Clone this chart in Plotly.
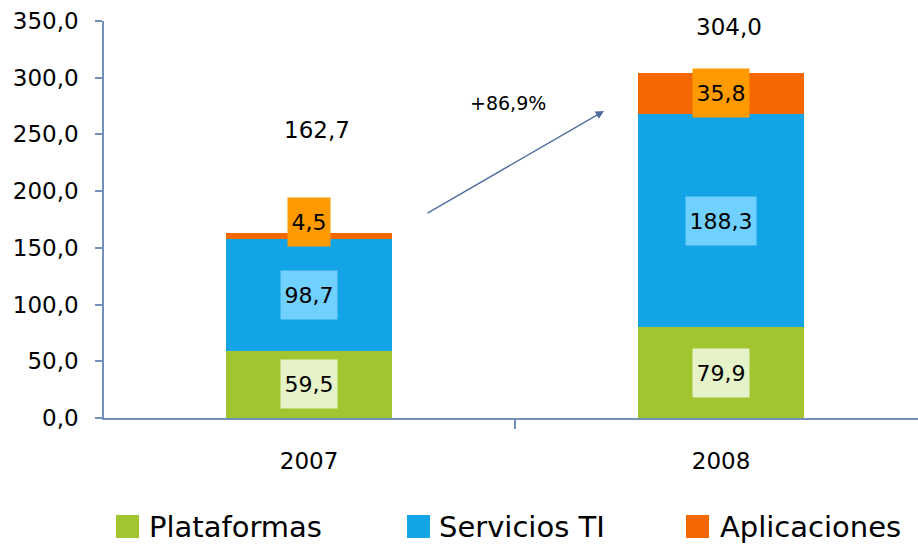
import plotly.graph_objects as go

years = ["2007", "2008"]
series_names = ["Plataformas", "Servicios TI", "Aplicaciones"]
plataformas = [59.5, 79.9]
servicios = [98.7, 188.3]
aplicaciones = [4.5, 35.8]
totals = [162.7, 304.0]
growth_label = "+86,9%"
y_tickvals = [0, 50, 100, 150, 200, 250, 300, 350]
y_ticktext = ["0,0", "50,0", "100,0", "150,0", "200,0", "250,0", "300,0", "350,0"]

bar_colors = ["#A0C52E", "#13A3E7", "#F56700"]
label_bg = ["#E6F2C8", "#70D0FF", "#FF9A00"]
FONT = "DejaVu Sans"

def fmt(v):
    return f"{v:.1f}".replace(".", ",")

fig = go.Figure()
all_series = [plataformas, servicios, aplicaciones]
for name, vals, col in zip(series_names, all_series, bar_colors):
    fig.add_trace(go.Bar(x=years, y=vals, name=name, marker=dict(color=col, line=dict(width=0)),
                         width=0.403, showlegend=False, hoverinfo="skip"))

annotations = []
# segment value labels
for si, vals in enumerate(all_series):
    for xi, v in enumerate(vals):
        base = sum(all_series[k][xi] for k in range(si))
        yc = base + v / 2
        if v < 10:
            yc = base + v + 10
        txt = fmt(v)
        ndig = len(txt) - 1
        w = 14 * ndig + 14
        annotations.append(dict(x=xi, y=yc, xref="x", yref="y", text=txt, showarrow=False,
                                font=dict(family=FONT, size=22, color="#000000"),
                                bgcolor=label_bg[si], width=w, height=48, borderpad=0,
                                xanchor="center", yanchor="middle"))

# totals
total_pos = [(0.02, 254), (1.02, 344.8)]
for (tx, ty), t in zip(total_pos, totals):
    annotations.append(dict(x=tx, y=ty, xref="x", yref="y", text=fmt(t), showarrow=False,
                            font=dict(family=FONT, size=23, color="#000000"),
                            xanchor="center", yanchor="middle"))

# growth arrow
annotations.append(dict(x=0.716, y=270.7, ax=0.284, ay=179.9, xref="x", yref="y", axref="x", ayref="y",
                        text="", showarrow=True, arrowhead=2, arrowsize=1.2, arrowwidth=1.4,
                        arrowcolor="#4F6E9E"))
annotations.append(dict(x=0.484, y=277.5, xref="x", yref="y", text=growth_label, showarrow=False,
                        font=dict(family=FONT, size=19, color="#000000"),
                        xanchor="center", yanchor="middle"))

# manual legend
shapes = []
sq_left = [116, 407, 686]
txt_left = [147, 437, 718]
def px_x(p):
    return (p - 104) / 814
def px_y(p):
    return (418 - p) / 397
for name, col, sl, tl in zip(series_names, bar_colors, sq_left, txt_left):
    shapes.append(dict(type="rect", xref="paper", yref="paper", x0=px_x(sl), x1=px_x(sl + 23),
                       y0=px_y(538), y1=px_y(515), fillcolor=col, line=dict(width=0)))
    annotations.append(dict(x=px_x(tl), y=px_y(527), xref="paper", yref="paper", text=name,
                            showarrow=False, xanchor="left", yanchor="middle",
                            font=dict(family=FONT, size=29, color="#000000")))

axis_col = "#7290BA"
fig.update_layout(
    width=918, height=548,
    margin=dict(l=104, r=0, t=21, b=130, pad=0),
    paper_bgcolor="white", plot_bgcolor="white",
    barmode="stack",
    showlegend=False,
    font=dict(family=FONT, size=23, color="#000000"),
    annotations=annotations,
    shapes=shapes,
    xaxis=dict(type="category", categoryorder="array", categoryarray=years,
               range=[-0.4976, 1.478], showline=True, linecolor=axis_col, linewidth=1.5,
               ticks="outside", tickson="boundaries", ticklen=9, tickcolor=axis_col, tickwidth=1.5,
               showgrid=False, zeroline=False, ticklabelstandoff=22,
               tickfont=dict(family=FONT, size=23, color="#000000")),
    yaxis=dict(range=[0, 350], tickvals=y_tickvals, ticktext=y_ticktext,
               showline=True, linecolor=axis_col, linewidth=1.5,
               ticks="outside", ticklen=7, tickcolor=axis_col, tickwidth=1.5,
               showgrid=False, zeroline=False, ticklabelstandoff=12,
               tickfont=dict(family=FONT, size=23, color="#000000")),
)

fig.write_html("out.html", config={"displayModeBar": False},
               post_script="document.body.style.margin='0';document.body.style.overflow='hidden';")
